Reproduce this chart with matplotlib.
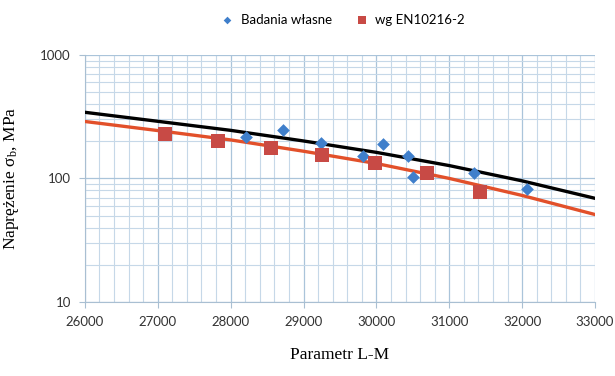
import matplotlib
matplotlib.use("Agg")
import matplotlib.pyplot as plt
from matplotlib.ticker import MultipleLocator, LogLocator, NullFormatter, FixedLocator

# measured points (Badania wlasne)
own_x = [28210, 28720, 29240, 29810, 30090, 30430, 30500, 31340, 32060]
own_y = [218, 247, 193, 151, 190, 151, 102, 110, 82]
# EN10216-2 points
en_x = [27100, 27820, 28550, 29250, 29980, 30690, 31420]
en_y = [229, 199, 176, 155, 134, 110, 78]
# trend curves read at every 1000
curve_x = [26000, 27000, 28000, 29000, 30000, 31000, 32000, 33000]
black_y = [343, 290, 245, 201, 162.5, 127, 95.5, 69]
red_y = [289, 244, 205, 166, 132, 100, 72.8, 51]

plt.rcParams["mathtext.fontset"] = "stix"
fig = plt.figure(figsize=(6.15, 3.76), dpi=100)
ax = fig.add_axes([0.138, 0.197, 0.8295, 0.657])

ax.plot(curve_x, black_y, color="black", lw=2.4, zorder=3)
ax.plot(curve_x, red_y, color="#e2502a", lw=2.4, zorder=3)
ax.scatter(own_x, own_y, marker="D", s=42, color="#3f7fcb", zorder=4, label="Badania własne", linewidths=0)
ax.scatter(en_x, en_y, marker="s", s=90, color="#c84a45", zorder=5, label="wg EN10216-2", linewidths=0)

ax.set_yscale("log")
ax.set_xlim(26000, 33000)
ax.set_ylim(10, 1000)
ax.xaxis.set_major_locator(MultipleLocator(1000))
ax.xaxis.set_minor_locator(MultipleLocator(200))
ax.yaxis.set_major_locator(FixedLocator([10, 100, 1000]))
ax.yaxis.set_minor_locator(LogLocator(base=10, subs=range(2, 10)))
ax.yaxis.set_minor_formatter(NullFormatter())
ax.set_yticklabels(["10", "100", "1000"])

ax.grid(which="major", color="#aac4da", lw=0.9)
ax.grid(which="minor", color="#c6d8e8", lw=0.8)
ax.set_axisbelow(True)
for sp in ("top", "right"):
    ax.spines[sp].set_visible(False)
for sp in ("left", "bottom"):
    ax.spines[sp].set_color("#a9bfd2")
ax.tick_params(which="major", length=4, color="#a9bfd2", labelsize=9.5, labelcolor="#333333", pad=6)
ax.tick_params(which="minor", length=0)
for lab in ax.get_xticklabels() + ax.get_yticklabels():
    lab.set_family("Lato")

ax.set_ylabel(r"Naprężenie σ$_\mathregular{b}$, MPa", family="Liberation Serif", fontsize=12.5, labelpad=14)
ax.set_xlabel("Parametr L-M", family="Liberation Serif", fontsize=12.5, labelpad=14)

fig.legend(loc="upper center", bbox_to_anchor=(0.552, 0.995), ncol=2, frameon=False,
           prop={"family": "Lato", "size": 9.5}, handletextpad=0.0, columnspacing=1.3,
           markerscale=0.6)

fig.savefig("out.png", dpi=100)
